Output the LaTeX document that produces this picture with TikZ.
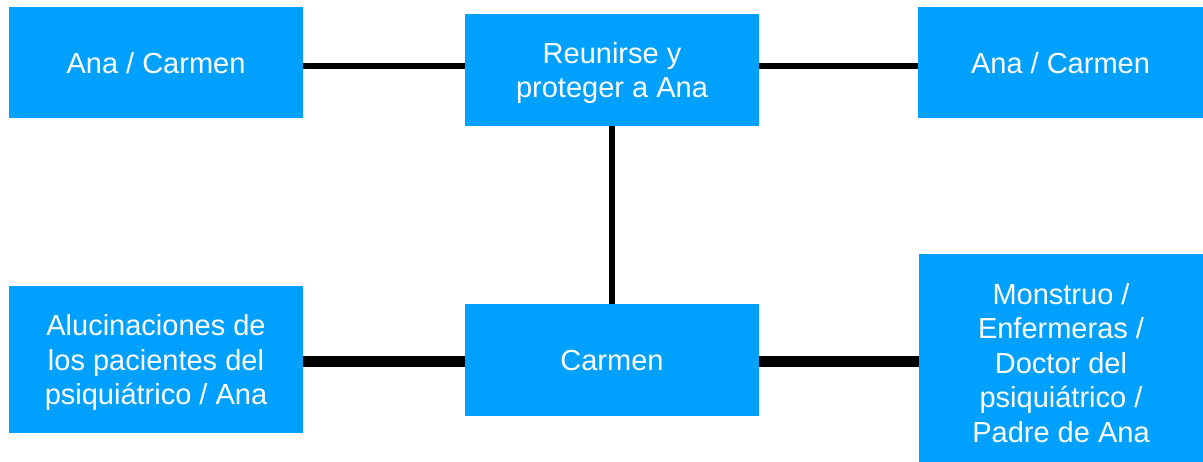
\documentclass[tikz,border=0pt]{standalone}
\usepackage{fontspec}
\setmainfont{Liberation Sans}
\definecolor{boxblue}{HTML}{00A0FF}
\begin{document}
\begin{tikzpicture}[x=1pt,y=-1pt,
  card/.style={fill=boxblue, draw=none, text=white, align=center,
    inner sep=0pt, text depth=0pt, font=\fontsize{29}{34.5}\selectfont},
  thinlink/.style={line width=6pt, draw=black},
  thicklink/.style={line width=11pt, draw=black}]
  \useasboundingbox (0,0) rectangle (1203,462);

  % boxes (the last one runs past the lower edge of the page)
  \node[card, minimum width=294pt, minimum height=111pt] (b1) at (156,62.5) {Ana / Carmen};
  \node[card, minimum width=294pt, minimum height=112pt] (b2) at (612,70) {Reunirse y\\proteger a Ana};
  \node[card, minimum width=285pt, minimum height=111pt] (b3) at (1060.5,62.5) {Ana / Carmen};
  \node[card, minimum width=294pt, minimum height=147pt] (b4) at (156,359.5) {Alucinaciones de\\los pacientes del\\psiquiátrico / Ana};
  \node[card, minimum width=294pt, minimum height=112pt] (b5) at (612,360) {Carmen};
  \node[card, minimum width=284pt, minimum height=217pt] (b6) at (1061,362.5) {Monstruo /\\Enfermeras /\\Doctor del\\psiquiátrico /\\Padre de Ana};

  % rows of the connectors
  \coordinate (toprow) at (0,66.5);
  \coordinate (botrow) at (0,362);

  % connectors
  \draw[thinlink] (b1.east |- toprow) -- (b2.west |- toprow);
  \draw[thinlink] (b2.east |- toprow) -- (b3.west |- toprow);
  \draw[thinlink] (b2.south) -- (b5.north);
  \draw[thicklink] (b4.east |- botrow) -- (b5.west |- botrow);
  \draw[thicklink] (b5.east |- botrow) -- (b6.west |- botrow);
\end{tikzpicture}
\end{document}
